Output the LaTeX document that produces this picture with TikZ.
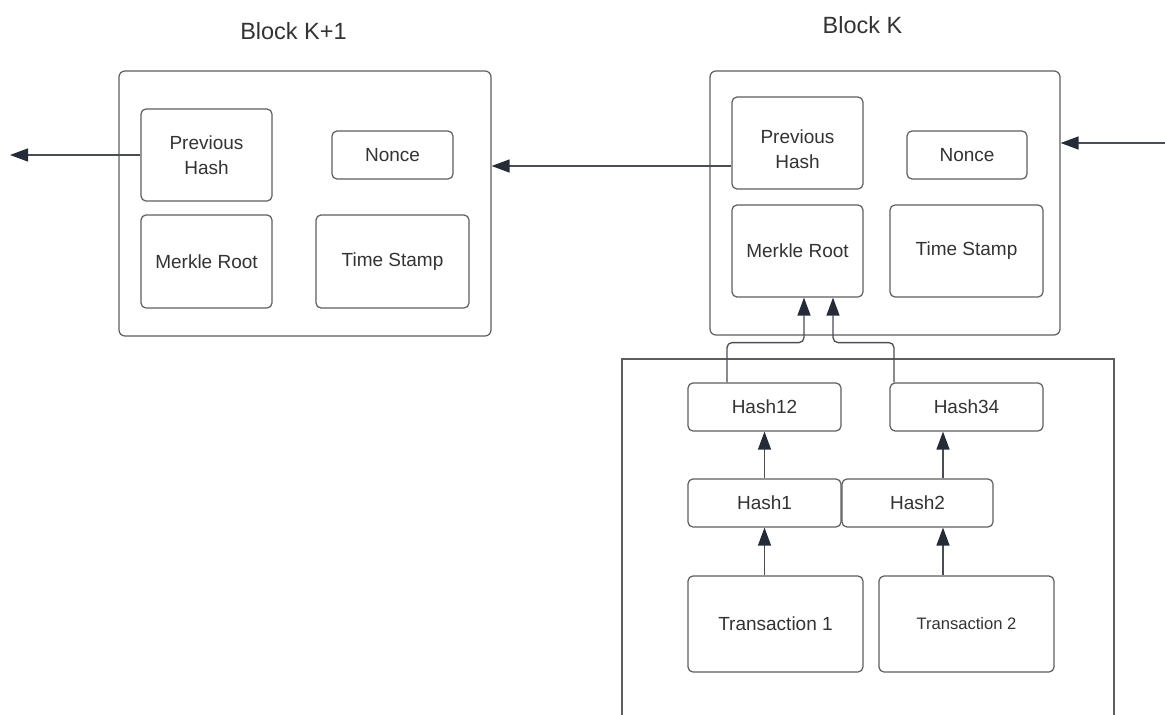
\documentclass[tikz,border=0pt]{standalone}
\usepackage{fontspec}
\setmainfont{Liberation Sans}
\usetikzlibrary{arrows.meta}
\definecolor{boxline}{HTML}{5E5E5E}
\definecolor{wire}{HTML}{4A4D52}
\definecolor{tip}{HTML}{252C38}
\definecolor{ink}{HTML}{333333}
\tikzset{
  outerbox/.style={draw=boxline, line width=1.2pt, rounded corners=6pt, inner sep=0pt},
  fieldbox/.style={draw=boxline, line width=1.2pt, rounded corners=5pt, inner sep=0pt,
    align=center, text=ink, font=\fontsize{19}{25.5}\selectfont},
  title/.style={text=ink, font=\fontsize{23.5}{28}\selectfont, inner sep=0pt},
  arr/.style={draw=wire, line width=1.3pt,
    -{Triangle[length=18pt,width=13pt,color=tip]}},
}
\begin{document}
\begin{tikzpicture}[x=1pt,y=-1pt]
\useasboundingbox (0,0) rectangle (1165,715);
\fill[white] (0,0) rectangle (1165,715);

% titles
\node[title] (tk1) at (293.5,31) {Block K+1};
\node[title] (tk) at (862.5,25) {Block K};

% block K+1
\node[outerbox, minimum width=372pt, minimum height=265pt] (b1) at (305,203.5) {};
\node[fieldbox, minimum width=131pt, minimum height=92pt] (p1) at (206.5,155) {Previous\\Hash};
\node[fieldbox, minimum width=121pt, minimum height=48pt] (n1) at (392.5,155) {Nonce};
\node[fieldbox, minimum width=131pt, minimum height=93pt] (m1) at (206.5,261.5) {Merkle Root};
\node[fieldbox, minimum width=153pt, minimum height=93pt] (t1) at (392.5,261.5) {Time Stamp};

% block K
\node[outerbox, minimum width=350pt, minimum height=264pt] (b0) at (885,203) {};
\node[fieldbox, minimum width=131pt, minimum height=92pt] (p0) at (797.5,143) {};
\node[text=ink, font=\fontsize{19}{25.5}\selectfont, align=center] (p0t) at (797.5,149) {Previous\\Hash};
\node[fieldbox, minimum width=120pt, minimum height=48pt] (n0) at (967,155) {Nonce};
\node[fieldbox, minimum width=131pt, minimum height=92pt] (m0) at (797.5,251) {Merkle Root};
\node[fieldbox, minimum width=153pt, minimum height=92pt] (t0) at (966.5,251) {Time Stamp};

% merkle tree frame (open at the bottom)
\coordinate (fl) at (622,715);
\coordinate (fr) at (1114,715);
\draw[boxline, line width=1.2pt] (fl) -- (622,359) -- (1114,359) -- (fr);

\node[fieldbox, minimum width=153pt, minimum height=48pt] (h12) at (764.5,407) {Hash12};
\node[fieldbox, minimum width=153pt, minimum height=48pt] (h34) at (966.5,407) {Hash34};
\node[fieldbox, minimum width=153pt, minimum height=48pt] (h1) at (764.5,503) {Hash1};
\node[fieldbox, minimum width=151pt, minimum height=48pt] (h2) at (917.5,503) {Hash2};
\node[fieldbox, minimum width=175pt, minimum height=96pt] (x1) at (775.5,624) {Transaction 1};
\node[fieldbox, minimum width=175pt, minimum height=96pt, font=\fontsize{16.6}{20}\selectfont] (x2) at (966.5,624) {Transaction 2};

% chain links
\coordinate (inK) at (1165,143);
\draw[arr] (inK) -- (inK -| b0.east);
\coordinate (ka) at ([yshift=-23pt]p0.west);
\draw[arr] (ka) -- (ka -| b1.east);
\coordinate (out) at (10,155);
\draw[arr] (p1.west) -- (out);

% tree links
\draw[arr] (x1.north -| h1.south) -- (h1.south);
\draw[arr] (h1.north) -- (h1.north |- h12.south);
\coordinate (c2) at ([xshift=25.5pt]h2.south);
\draw[arr] (x2.north -| c2) -- (c2);
\draw[arr] (c2 |- h2.north) -- (c2 |- h34.south);
\draw[arr, rounded corners=5pt] ([xshift=-37.5pt]h12.north) |- ([xshift=6.5pt,yshift=-45pt]m0.south) -- ([xshift=6.5pt]m0.south);
\draw[arr, rounded corners=5pt] ([xshift=-72.5pt]h34.north) |- ([xshift=35.5pt,yshift=-45pt]m0.south) -- ([xshift=35.5pt]m0.south);
\end{tikzpicture}
\end{document}
